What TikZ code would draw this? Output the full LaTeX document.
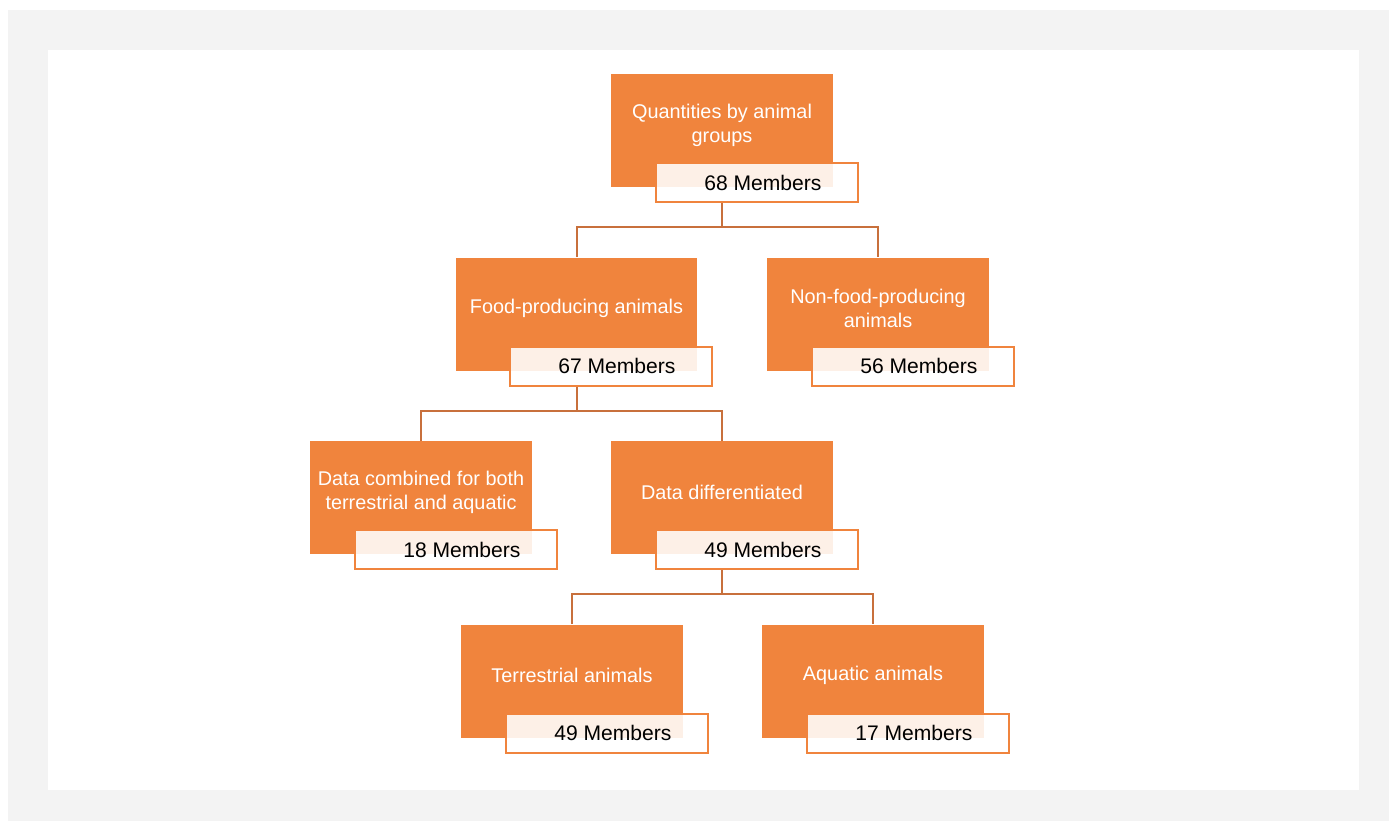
\documentclass[tikz,border=0pt]{standalone}
\usepackage{xcolor}
\usepackage{fontspec}
\setmainfont{Liberation Sans}
\usepackage{tikz}
\usetikzlibrary{positioning}
\definecolor{boxorange}{HTML}{F0843D}
\definecolor{linkbrown}{HTML}{C8703C}
\definecolor{pagegray}{HTML}{F3F3F3}
\tikzstyle{group} = [rectangle, fill=boxorange, text=white, minimum width=4.44cm, minimum height=2.26cm, inner sep=0pt, text width=4.3cm, align=flush center, execute at end node={\endgraf\vspace*{0.22cm}}, font=\fontsize{11.3}{13.6}\selectfont]
\tikzstyle{member} = [rectangle, anchor=north west, draw=boxorange, line width=0.04cm, fill=white, fill opacity=0.88, text opacity=1, minimum width=4.04cm, minimum height=0.78cm, inner sep=0pt, execute at begin node={\hspace*{0.25cm}}, font=\fontsize{12}{14}\selectfont]
\tikzstyle{link} = [draw=linkbrown, line width=0.04cm]

\begin{document}
\begin{tikzpicture}[node distance=3.67cm]
    \useasboundingbox (0,0) rectangle (27.78,-16.42);
    \fill[pagegray] (0.16,-0.2) rectangle (27.78,-16.42);
    \fill[white] (0.96,-1.0) rectangle (27.18,-15.8);

    \node(qty)[group] at (14.44,-2.61) {Quantities by animal groups};
    \node(food)[group, minimum width=4.82cm, text width=4.6cm, below of=qty, xshift=-2.91cm] {Food-producing animals};
    \node(nonfood)[group, below of=qty, xshift=3.12cm] {Non-food-producing animals};
    \node(combined)[group, below of=food, xshift=-3.11cm] {Data combined for both terrestrial and aquatic};
    \node(diff)[group, below of=food, xshift=2.91cm] {Data differentiated};
    \node(terr)[group, below of=diff, xshift=-3.0cm] {Terrestrial animals};
    \node(aqua)[group, below of=diff, xshift=3.02cm] {Aquatic animals};

    \node(qtym)[member] at ([xshift=0.88cm, yshift=0.5cm]qty.south west) {68 Members};
    \node(foodm)[member] at ([xshift=1.06cm, yshift=0.5cm]food.south west) {67 Members};
    \node(nonfoodm)[member] at ([xshift=0.88cm, yshift=0.5cm]nonfood.south west) {56 Members};
    \node(combinedm)[member] at ([xshift=0.88cm, yshift=0.5cm]combined.south west) {18 Members};
    \node(diffm)[member] at ([xshift=0.88cm, yshift=0.5cm]diff.south west) {49 Members};
    \node(terrm)[member] at ([xshift=0.88cm, yshift=0.5cm]terr.south west) {49 Members};
    \node(aquam)[member] at ([xshift=0.88cm, yshift=0.5cm]aqua.south west) {17 Members};

    \draw[link](food.north) -- ++(0,0.6) coordinate (j1) -| (nonfood.north);
    \draw[link](qty.south |- qtym.south) -- (qty.south |- j1);
    \draw[link](combined.north) -- ++(0,0.6) coordinate (j2) -| (diff.north);
    \draw[link](food.south |- foodm.south) -- (food.south |- j2);
    \draw[link](terr.north) -- ++(0,0.6) coordinate (j3) -| (aqua.north);
    \draw[link](diff.south |- diffm.south) -- (diff.south |- j3);
\end{tikzpicture}
\end{document}
